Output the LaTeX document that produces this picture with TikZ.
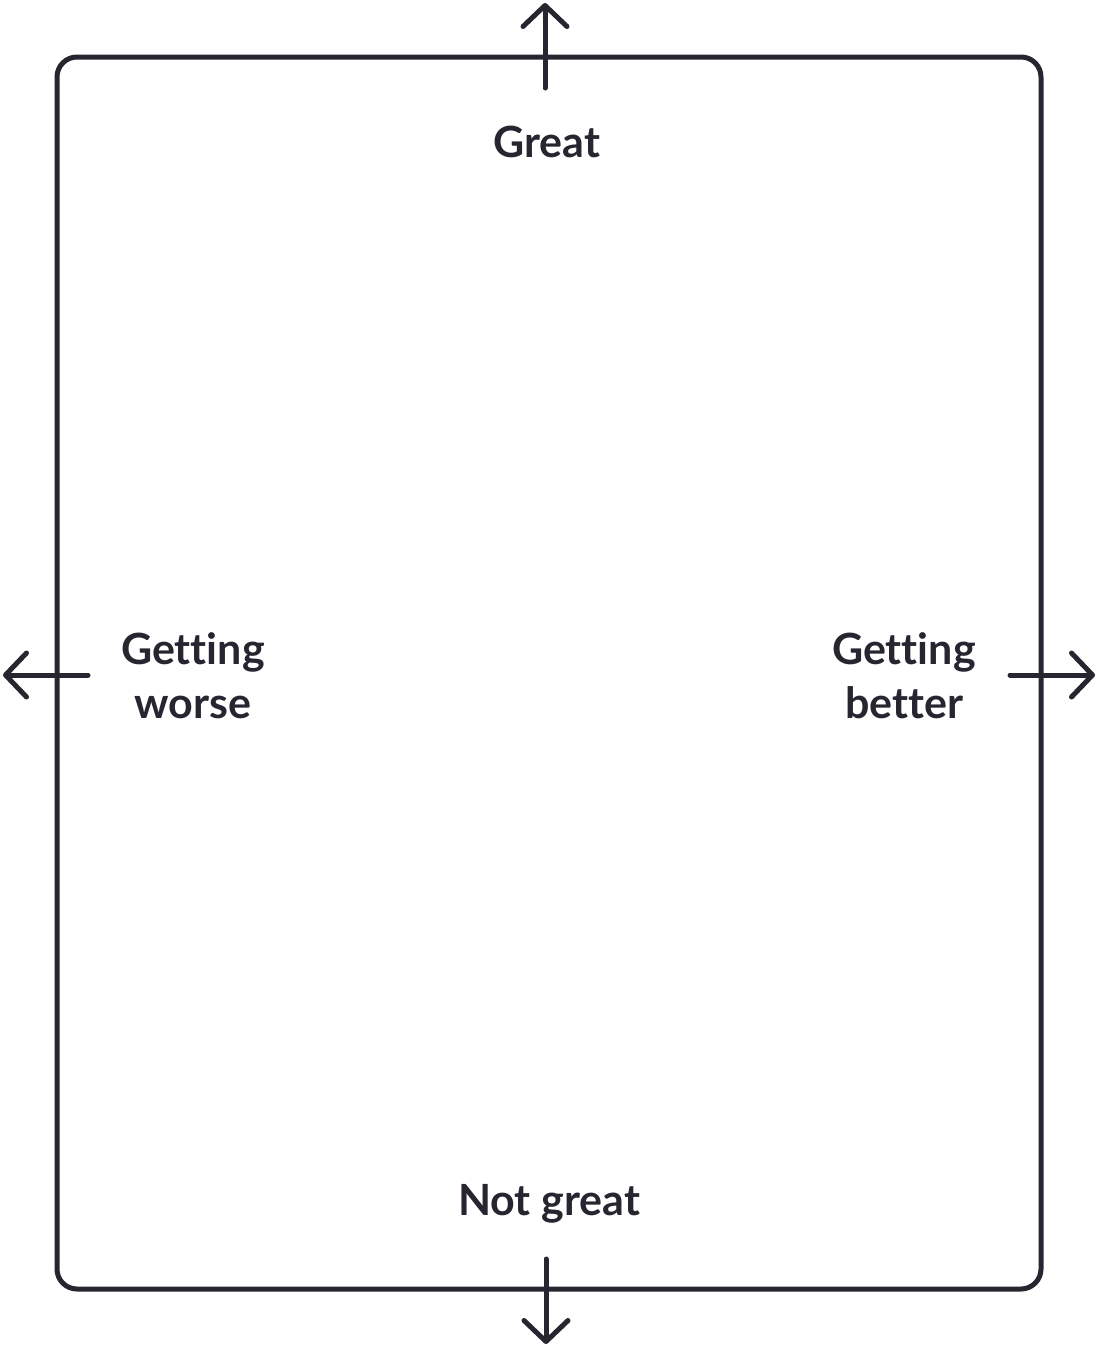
\documentclass[tikz,border=0pt]{standalone}
\usepackage{fontspec}
\setmainfont{Lato}[Ligatures={NoCommon,NoRare}]
\usetikzlibrary{arrows.meta}
\definecolor{ink}{RGB}{38,37,48}
\tikzset{
  lbl/.style={font=\fontsize{43}{54}\selectfont\bfseries, text=ink, align=center, inner sep=0pt},
  frame/.style={draw=ink, line width=5pt, rounded corners=20pt},
  axisarrow/.style={draw=ink, line width=5pt, line cap=round, line join=round,
    -{Straight Barb[length=21pt,width=44pt,line cap=round,line join=round]}}
}
\begin{document}
\begin{tikzpicture}[x=1pt,y=-1pt]
\useasboundingbox (0,0) rectangle (1098,1347);
\draw[frame] (57,57) rectangle (1041,1289);
\node[lbl, anchor=base] (great) at (547,157) {Great};
\node[lbl, anchor=base] (notgreat) at (549,1215) {Not great};
\node[lbl, anchor=base] (worse) at (193,718) {Getting\\worse};
\node[lbl, anchor=base] (better) at (904,718) {Getting\\better};
\coordinate (ts) at (545,88);
\coordinate (te) at (545,3);
\coordinate (bs) at (546,1259);
\coordinate (be) at (546,1344);
\coordinate (ls) at (88,675);
\coordinate (le) at (3,675);
\coordinate (rs) at (1010,675);
\coordinate (re) at (1095,675);
\draw[axisarrow] (ts) -- (te);
\draw[axisarrow] (bs) -- (be);
\draw[axisarrow] (ls) -- (le);
\draw[axisarrow] (rs) -- (re);
\end{tikzpicture}
\end{document}
